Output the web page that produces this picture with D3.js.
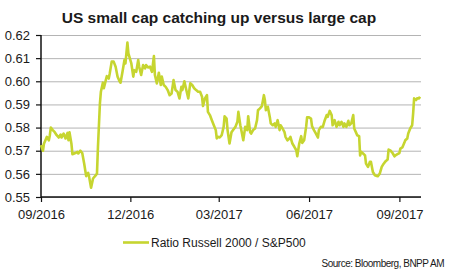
<!DOCTYPE html>
<html>
<head>
<meta charset="utf-8">
<script src="https://cdn.jsdelivr.net/npm/d3@7"></script>
<style>
  body { margin: 0; background: #fff; }
  text { font-family: "Liberation Sans", Arial, sans-serif; fill: #1a1a1a; }
</style>
</head>
<body>
<div id="chart"></div>
<script>
// ratio Russell 2000 / S&P500
var dates = [
  "2016-09-01","2016-09-03","2016-09-04","2016-09-07","2016-09-09","2016-09-10","2016-09-11","2016-09-13","2016-09-15","2016-09-17",
  "2016-09-19","2016-09-21","2016-09-22","2016-09-24","2016-09-26","2016-09-28","2016-09-29","2016-09-30","2016-10-02","2016-10-03",
  "2016-10-06","2016-10-08","2016-10-09","2016-10-11","2016-10-13","2016-10-15","2016-10-17","2016-10-19","2016-10-20","2016-10-22",
  "2016-10-24","2016-10-26","2016-10-28","2016-10-29","2016-10-31","2016-11-01","2016-11-03","2016-11-04","2016-11-06","2016-11-07",
  "2016-11-09","2016-11-10","2016-11-12","2016-11-14","2016-11-16","2016-11-18","2016-11-20","2016-11-21","2016-11-23","2016-11-25",
  "2016-11-26","2016-11-28","2016-11-29","2016-12-02","2016-12-04","2016-12-05","2016-12-07","2016-12-09","2016-12-10","2016-12-12",
  "2016-12-14","2016-12-16","2016-12-17","2016-12-19","2016-12-21","2016-12-23","2016-12-25","2016-12-26","2016-12-28","2016-12-30",
  "2017-01-01","2017-01-02","2017-01-04","2017-01-06","2017-01-08","2017-01-10","2017-01-12","2017-01-14","2017-01-16","2017-01-18",
  "2017-01-20","2017-01-22","2017-01-23","2017-01-25","2017-01-27","2017-01-29","2017-01-31","2017-02-02","2017-02-04","2017-02-06",
  "2017-02-08","2017-02-10","2017-02-12","2017-02-13","2017-02-15","2017-02-17","2017-02-18","2017-02-20","2017-02-22","2017-02-24",
  "2017-02-26","2017-02-27","2017-02-28","2017-03-02","2017-03-04","2017-03-06","2017-03-07","2017-03-09","2017-03-10","2017-03-12",
  "2017-03-14","2017-03-16","2017-03-18","2017-03-20","2017-03-21","2017-03-23","2017-03-24","2017-03-26","2017-03-28","2017-03-30",
  "2017-03-31","2017-04-02","2017-04-03","2017-04-05","2017-04-07","2017-04-09","2017-04-10","2017-04-12","2017-04-14","2017-04-16",
  "2017-04-17","2017-04-18","2017-04-20","2017-04-22","2017-04-23","2017-04-25","2017-04-27","2017-04-28","2017-04-30","2017-05-02",
  "2017-05-03","2017-05-05","2017-05-07","2017-05-08","2017-05-10","2017-05-12","2017-05-13","2017-05-15","2017-05-17","2017-05-19",
  "2017-05-20","2017-05-22","2017-05-24","2017-05-25","2017-05-27","2017-05-29","2017-05-30","2017-06-01","2017-06-03","2017-06-04",
  "2017-06-06","2017-06-08","2017-06-10","2017-06-11","2017-06-13","2017-06-15","2017-06-17","2017-06-19","2017-06-20","2017-06-22",
  "2017-06-24","2017-06-25","2017-06-27","2017-06-29","2017-07-01","2017-07-02","2017-07-04","2017-07-06","2017-07-07","2017-07-09",
  "2017-07-11","2017-07-12","2017-07-14","2017-07-16","2017-07-17","2017-07-19","2017-07-20","2017-07-22","2017-07-23","2017-07-24",
  "2017-07-26","2017-07-28","2017-07-29","2017-07-31","2017-08-02","2017-08-03","2017-08-05","2017-08-07","2017-08-09","2017-08-10",
  "2017-08-12","2017-08-14","2017-08-16","2017-08-18","2017-08-20","2017-08-21","2017-08-23","2017-08-25","2017-08-27","2017-08-28",
  "2017-08-30","2017-09-01","2017-09-02","2017-09-04","2017-09-06","2017-09-07","2017-09-09","2017-09-10","2017-09-12","2017-09-14",
  "2017-09-15","2017-09-16","2017-09-18","2017-09-19","2017-09-21","2017-09-22"
];
var ratio = [
  .5724,.5700,.5730,.5760,.5745,.5767,.5800,.5789,.5780,.5767,
  .5757,.5770,.5757,.5774,.5753,.5777,.5745,.5780,.5730,.5685,
  .5690,.5695,.5688,.5700,.5690,.5644,.5590,.5604,.5587,.5540,
  .5580,.5590,.5601,.5716,.5904,.5955,.5994,.5970,.6005,.6022,
  .6012,.6034,.6085,.6085,.6063,.6020,.6000,.5994,.6041,.6092,
  .6077,.6167,.6121,.6077,.6020,.6048,.6041,.6092,.6063,.6027,
  .6070,.6056,.6070,.6060,.6063,.6041,.6109,.6027,.5991,.6037,
  .5984,.6020,.5984,.5976,.5962,.5940,.5947,.6005,.5962,.5955,
  .5926,.5976,.5962,.6000,.5962,.5926,.5991,.5984,.5970,.5962,
  .5955,.5955,.5933,.5893,.5926,.5940,.5868,.5854,.5832,.5810,
  .5789,.5753,.5760,.5757,.5767,.5803,.5849,.5839,.5789,.5731,
  .5780,.5792,.5803,.5825,.5868,.5810,.5789,.5745,.5803,.5789,
  .5849,.5780,.5774,.5789,.5796,.5832,.5875,.5883,.5893,.5940,
  .5919,.5875,.5890,.5846,.5818,.5810,.5818,.5803,.5832,.5789,
  .5810,.5796,.5780,.5760,.5745,.5753,.5760,.5731,.5717,.5702,
  .5676,.5731,.5763,.5734,.5745,.5803,.5844,.5844,.5839,.5806,
  .5789,.5774,.5757,.5789,.5803,.5803,.5832,.5854,.5846,.5872,
  .5854,.5810,.5832,.5803,.5825,.5810,.5825,.5803,.5818,.5803,
  .5829,.5810,.5818,.5854,.5796,.5777,.5767,.5763,.5680,.5695,
  .5688,.5680,.5644,.5630,.5652,.5652,.5608,.5594,.5591,.5590,
  .5601,.5630,.5644,.5655,.5662,.5705,.5700,.5690,.5676,.5680,
  .5685,.5690,.5709,.5714,.5734,.5745,.5753,.5774,.5796,.5810,
  .5861,.5926,.5919,.5926,.5926,.5933
];
var yTicks = [0.55, 0.56, 0.57, 0.58, 0.59, 0.60, 0.61, 0.62];
var xTicks = ["2016-09-01", "2016-12-01", "2017-03-01", "2017-06-01", "2017-09-01"];
var xDomain = ["2016-09-01", "2017-09-23"];

var title = "US small cap catching up versus large cap";
var seriesName = "Ratio Russell 2000 / S&P500";
var source = "Source: Bloomberg, BNPP AM";

var W = 449, H = 272;
var plot = { left: 41, right: 421, top: 35, bottom: 197 };
var lineColor = "#c6d530";

var parse = d3.timeParse("%Y-%m-%d");
var data = dates.map(function (d, i) { return { date: parse(d), value: ratio[i] }; });

var svg = d3.select("#chart").append("svg").attr("width", W).attr("height", H);

var x = d3.scaleTime().domain(xDomain.map(parse)).range([plot.left, plot.right]);
var y = d3.scaleLinear().domain([0.55, 0.62]).range([plot.bottom, plot.top]);

// gridlines
svg.append("g")
    .attr("transform", "translate(" + plot.left + ",0)")
    .call(d3.axisLeft(y).tickValues(yTicks).tickSize(-(plot.right - plot.left)).tickFormat(""))
    .call(g => g.select(".domain").remove())
    .call(g => g.selectAll("line").attr("stroke", "#b4b4b4").attr("stroke-width", 1));

// y axis
var yAx = svg.append("g")
    .attr("transform", "translate(" + plot.left + ",0)")
    .call(d3.axisLeft(y).tickValues(yTicks).tickSize(5).tickPadding(6).tickFormat(d3.format(".2f")));
yAx.select(".domain").attr("stroke", "#111").attr("stroke-width", 1.5).attr("d", "M0," + plot.top + "V" + plot.bottom);
yAx.selectAll("line").attr("stroke", "#111").attr("stroke-width", 1.2);
yAx.selectAll("text").style("font-size", "13px").attr("fill", "#1a1a1a");

// x axis
var xAx = svg.append("g")
    .attr("transform", "translate(0," + plot.bottom + ")")
    .call(d3.axisBottom(x).tickValues(xTicks.map(parse)).tickSize(5).tickPadding(8).tickFormat(d3.timeFormat("%m/%Y")));
xAx.select(".domain").attr("stroke", "#111").attr("stroke-width", 1.5).attr("d", "M" + plot.left + ",0H" + plot.right);
xAx.selectAll("line").attr("stroke", "#111").attr("stroke-width", 1.2);
xAx.selectAll("text").style("font-size", "13px").attr("fill", "#1a1a1a");

// the series
var line = d3.line().x(d => x(d.date)).y(d => y(d.value));
svg.append("path").datum(data)
    .attr("d", line)
    .attr("fill", "none")
    .attr("stroke", lineColor)
    .attr("stroke-width", 2.6)
    .attr("stroke-linejoin", "round");

// title
svg.append("text").attr("x", 219).attr("y", 23).attr("text-anchor", "middle")
    .style("font-size", "15.5px").style("font-weight", "bold").text(title);

// legend
svg.append("line").attr("x1", 123).attr("x2", 149).attr("y1", 242.5).attr("y2", 242.5)
    .attr("stroke", lineColor).attr("stroke-width", 2.6);
svg.append("text").attr("x", 151).attr("y", 247).style("font-size", "12px").text(seriesName);

// source
svg.append("text").attr("x", 444).attr("y", 266.5).attr("text-anchor", "end")
    .style("font-size", "10px").style("letter-spacing", "-0.5px").text(source);
</script>
</body>
</html>
